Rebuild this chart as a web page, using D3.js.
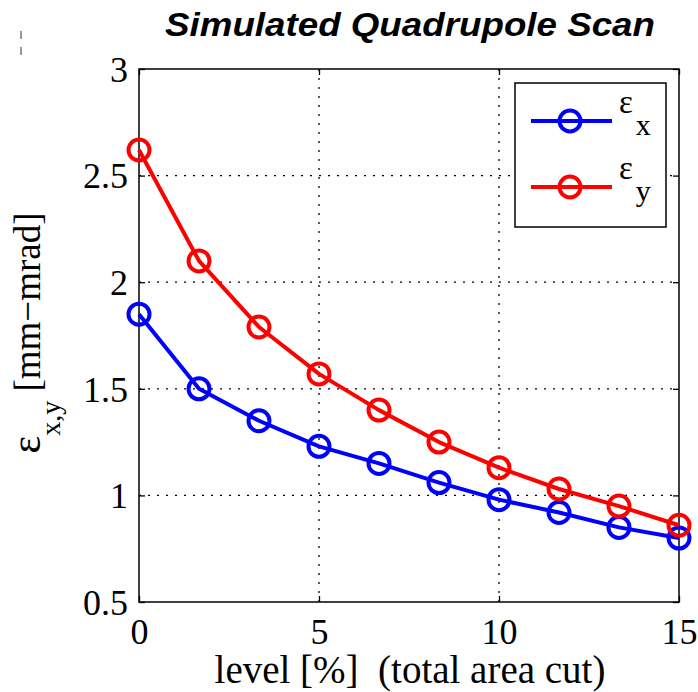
<!DOCTYPE html>
<html>
<head>
<meta charset="utf-8">
<script src="https://cdn.jsdelivr.net/npm/d3@7"></script>
<style>
  html, body { margin: 0; padding: 0; background: #fff; }
  svg { display: block; }
</style>
</head>
<body>
<svg id="chart" width="698" height="692"></svg>
<script>
// cut level in percent (total area cut)
const levels = [0, 1.667, 3.333, 5, 6.667, 8.333, 10, 11.667, 13.333, 15];
// emittance in mm-mrad
const emitX = [1.85, 1.50, 1.35, 1.23, 1.15, 1.06, 0.98, 0.92, 0.85, 0.80];
const emitY = [2.62, 2.10, 1.79, 1.57, 1.40, 1.25, 1.13, 1.03, 0.95, 0.86];
const xTicks = [0, 5, 10, 15];
const yTicks = [0.5, 1, 1.5, 2, 2.5, 3];
const seriesNames = ["x", "y"];
const seriesColors = ["#0000ff", "#ff0000"];

const svg = d3.select("#chart");
const serif = "'Liberation Serif', 'Times New Roman', serif";
const pLeft = 139, pRight = 679, pTop = 69, pBottom = 602;

const x = d3.scaleLinear().domain([0, 15]).range([pLeft, pRight]);
const y = d3.scaleLinear().domain([0.5, 3]).range([pBottom, pTop]);

// title
svg.append("text")
  .attr("x", 165).attr("y", 36)
  .attr("font-family", "'Liberation Sans', Arial, sans-serif")
  .attr("font-weight", "bold").attr("font-style", "italic")
  .attr("font-size", 33)
  .attr("textLength", 490).attr("lengthAdjust", "spacingAndGlyphs")
  .text("Simulated Quadrupole Scan");

// small stray dashed mark at top-left
svg.append("line")
  .attr("x1", 21).attr("x2", 21).attr("y1", 31).attr("y2", 58)
  .attr("stroke", "#555").attr("stroke-width", 1.2)
  .attr("stroke-dasharray", "8,8");

// dotted grid
const grid = svg.append("g").attr("stroke", "#000").attr("stroke-width", 1.3)
  .attr("stroke-dasharray", "2,7");
grid.selectAll("line.v").data(xTicks.filter(d => d > 0 && d < 15)).join("line")
  .attr("class", "v")
  .attr("x1", d => x(d)).attr("x2", d => x(d)).attr("y1", pTop).attr("y2", pBottom);
grid.selectAll("line.h").data(yTicks.filter(d => d > 0.5 && d < 3)).join("line")
  .attr("class", "h")
  .attr("x1", pLeft).attr("x2", pRight).attr("y1", d => y(d)).attr("y2", d => y(d));

// axes with inward ticks
const tickLen = 6;
const axB = svg.append("g").attr("transform", `translate(0,${pBottom})`)
  .call(d3.axisBottom(x).tickValues(xTicks).tickSize(-tickLen).tickPadding(16).tickFormat(d3.format("d")));
const axT = svg.append("g").attr("transform", `translate(0,${pTop})`)
  .call(d3.axisTop(x).tickValues(xTicks).tickSize(-tickLen).tickFormat(""));
const axL = svg.append("g").attr("transform", `translate(${pLeft},0)`)
  .call(d3.axisLeft(y).tickValues(yTicks).tickSize(-tickLen).tickPadding(11).tickFormat(d => d3.format("")(d)));
const axR = svg.append("g").attr("transform", `translate(${pRight},0)`)
  .call(d3.axisRight(y).tickValues(yTicks).tickSize(-tickLen).tickFormat(""));
[axB, axT, axL, axR].forEach(g => {
  g.select(".domain").remove();
  g.selectAll(".tick line").attr("stroke", "#000").attr("stroke-width", 1.3);
  g.selectAll("text").attr("font-family", serif).attr("font-size", 36).attr("fill", "#000");
});
axB.selectAll("text").attr("dy", "0.71em");
axL.selectAll("text").attr("dy", "0.34em");

// plot frame
svg.append("rect")
  .attr("x", pLeft).attr("y", pTop).attr("width", pRight - pLeft).attr("height", pBottom - pTop)
  .attr("fill", "none").attr("stroke", "#000").attr("stroke-width", 1.5);

// series
const line = d3.line().x((d, i) => x(levels[i])).y(d => y(d));
[emitX, emitY].forEach((vals, k) => {
  const g = svg.append("g");
  g.append("path").datum(vals).attr("d", line)
    .attr("fill", "none").attr("stroke", seriesColors[k]).attr("stroke-width", 4)
    .attr("stroke-linejoin", "round");
  g.selectAll("circle").data(vals).join("circle")
    .attr("cx", (d, i) => x(levels[i])).attr("cy", d => y(d)).attr("r", 10.5)
    .attr("fill", "none").attr("stroke", seriesColors[k]).attr("stroke-width", 4);
});

// x label
svg.append("text")
  .attr("x", 410).attr("y", 683)
  .attr("text-anchor", "middle")
  .attr("font-family", serif).attr("font-size", 39)
  .attr("xml:space", "preserve")
  .style("white-space", "pre")
  .text("level [%]  (total area cut)");

// y label
const yl = svg.append("text")
  .attr("transform", "translate(40,333) rotate(-90)")
  .attr("text-anchor", "middle")
  .attr("font-family", serif).attr("font-size", 37);
yl.append("tspan").attr("font-size", 42).text("ε");
yl.append("tspan").attr("font-size", 28).attr("dy", 20).text("x,y");
yl.append("tspan").attr("dy", -20).text(" [mm\u2212mrad]");

// legend
const lg = svg.append("g");
lg.append("rect").attr("x", 515).attr("y", 83).attr("width", 151).attr("height", 144)
  .attr("fill", "#fff").attr("stroke", "#000").attr("stroke-width", 1.5);
const legRows = [121, 187];
seriesNames.forEach((nm, k) => {
  const cy = legRows[k];
  lg.append("line").attr("x1", 531).attr("x2", 612).attr("y1", cy).attr("y2", cy)
    .attr("stroke", seriesColors[k]).attr("stroke-width", 4);
  lg.append("circle").attr("cx", 570).attr("cy", cy).attr("r", 10.5)
    .attr("fill", "none").attr("stroke", seriesColors[k]).attr("stroke-width", 4);
  const t = lg.append("text").attr("x", 619).attr("y", cy - 8)
    .attr("font-family", serif).attr("font-size", 33);
  t.append("tspan").text("ε");
  t.append("tspan").attr("font-size", 30).attr("dx", 3).attr("dy", 22).text(nm);
});
</script>
</body>
</html>
